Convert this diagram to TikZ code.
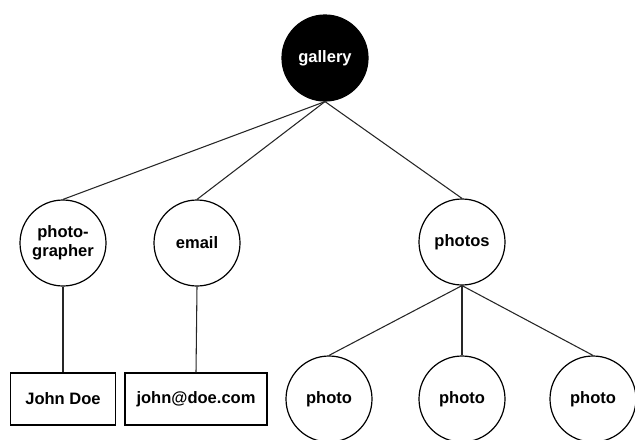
\documentclass[tikz,border=0pt]{standalone}
\usepackage{fontspec}
\setmainfont{Liberation Sans}

\begin{document}
\begin{tikzpicture}[x=0.75pt,y=0.75pt,yscale=-1,xscale=1,
  label font/.style={font=\bfseries\fontsize{12.4}{14}\selectfont},
  bubble/.style={circle,draw,line width=0.9pt,minimum size=64.5pt,inner sep=0pt,align=center,label font},
  rootbubble/.style={bubble,fill=black,text=white},
  valuebox/.style={rectangle,draw,line width=0.9pt,minimum height=39pt,inner sep=0pt,label font},
  link/.style={draw=black!85,line width=0.8pt}]

\useasboundingbox (0,0) rectangle (635,439);

% nodes
\node [rootbubble] (gallery) at (325, 58) {gallery};

\node [bubble] (photographer) at (63, 243) {photo-\\grapher};
\node [bubble] (email) at (197, 243) {email};
\node [bubble] (photos) at (462, 242) {photos};

\node [valuebox,minimum width=78.75pt] (name) at (63, 399) {John Doe};
\node [valuebox,minimum width=106.5pt] (address) at (196, 399) {john@doe.com};

\node [bubble] (photoA) at (329, 399) {photo};
\node [bubble] (photoB) at (462, 399) {photo};
\node [bubble] (photoC) at (593, 399) {photo};

% links
\draw [link] (gallery.south) -- (photographer.north);
\draw [link] (gallery.south) -- (email.north);
\draw [link] (gallery.south) -- (photos.north);

\draw [link] (photographer.south) -- (name.north);
\draw [link] (email.south) -- (address.north);

\draw [link] (photos.south) -- (photoA.north);
\draw [link] (photos.south) -- (photoB.north);
\draw [link] (photos.south) -- (photoC.north);

\end{tikzpicture}
\end{document}
